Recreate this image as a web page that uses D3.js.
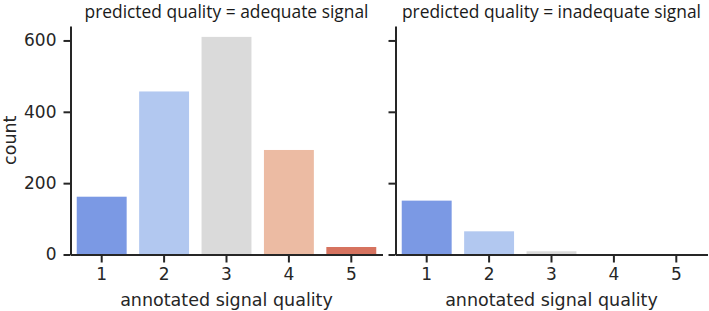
<!DOCTYPE html>
<html>
<head>
<meta charset="utf-8">
<script src="https://cdn.jsdelivr.net/npm/d3@7"></script>
<style>
  body { margin: 0; background: #fff; }
  svg { display: block; }
  .axis text { font-family: "DejaVu Sans", sans-serif; font-size: 17px; fill: #262626; }
  .axis path, .axis line { stroke: #262626; stroke-width: 2px; }
  .lbl { font-family: "DejaVu Sans", sans-serif; font-size: 17.5px; fill: #262626; }
  .ttl { font-family: "Open Sans", sans-serif; font-size: 17.4px; fill: #1a1a1a; }
</style>
</head>
<body>
<svg width="709" height="311"></svg>
<script>
// annotated signal quality levels
let categories = ["1", "2", "3", "4", "5"];
let panels = ["adequate signal", "inadequate signal"];
// counts per panel
let adequate = [162, 457, 610, 293, 21];
let inadequate = [151, 65, 9, 1, 0];
let yTicks = [0, 200, 400, 600];
let colors = ["#7b99e4", "#b2c8f0", "#dadada", "#ecbba3", "#d6735f"];

let series = [adequate, inadequate];

let svg = d3.select("svg"),
    plotTop = 26,
    plotBottom = 254.5,
    panelLeft = [70.5, 395.5],
    panelWidth = 312;

let y = d3.scaleLinear()
    .domain([0, d3.max(series.flat()) * 1.05])
    .range([plotBottom, plotTop]);

let color = d3.scaleOrdinal().domain(categories).range(colors);

panels.forEach((name, p) => {
    let x = d3.scaleBand()
        .domain(categories)
        .range([panelLeft[p], panelLeft[p] + panelWidth])
        .paddingInner(0.2)
        .paddingOuter(0.1);

    let g = svg.append("g");

    g.selectAll("rect")
        .data(series[p])
        .enter()
        .append("rect")
        .attr("x", (d, i) => x(categories[i]))
        .attr("width", x.bandwidth())
        .attr("y", d => y(d))
        .attr("height", d => y(0) - y(d))
        .attr("fill", (d, i) => color(categories[i]));

    g.append("g")
        .attr("class", "axis")
        .attr("transform", `translate(0,${plotBottom})`)
        .call(d3.axisBottom(x).tickSize(8).tickSizeOuter(0).tickPadding(5));

    let yAxis = d3.axisLeft(y).tickValues(yTicks).tickSize(7).tickSizeOuter(0).tickPadding(7);
    if (p > 0) yAxis.tickFormat("");
    g.append("g")
        .attr("class", "axis")
        .attr("transform", `translate(${panelLeft[p]},0)`)
        .call(yAxis);

    g.append("text")
        .attr("class", "ttl")
        .attr("x", panelLeft[p] + panelWidth / 2)
        .attr("y", 17.5)
        .attr("text-anchor", "middle")
        .text(`predicted quality = ${name}`);

    g.append("text")
        .attr("class", "lbl")
        .attr("x", panelLeft[p] + panelWidth / 2)
        .attr("y", 305.5)
        .attr("text-anchor", "middle")
        .text("annotated signal quality");
});

svg.append("text")
    .attr("class", "lbl")
    .attr("transform", `translate(16,${(plotTop + plotBottom) / 2}) rotate(-90)`)
    .attr("text-anchor", "middle")
    .text("count");
</script>
</body>
</html>
